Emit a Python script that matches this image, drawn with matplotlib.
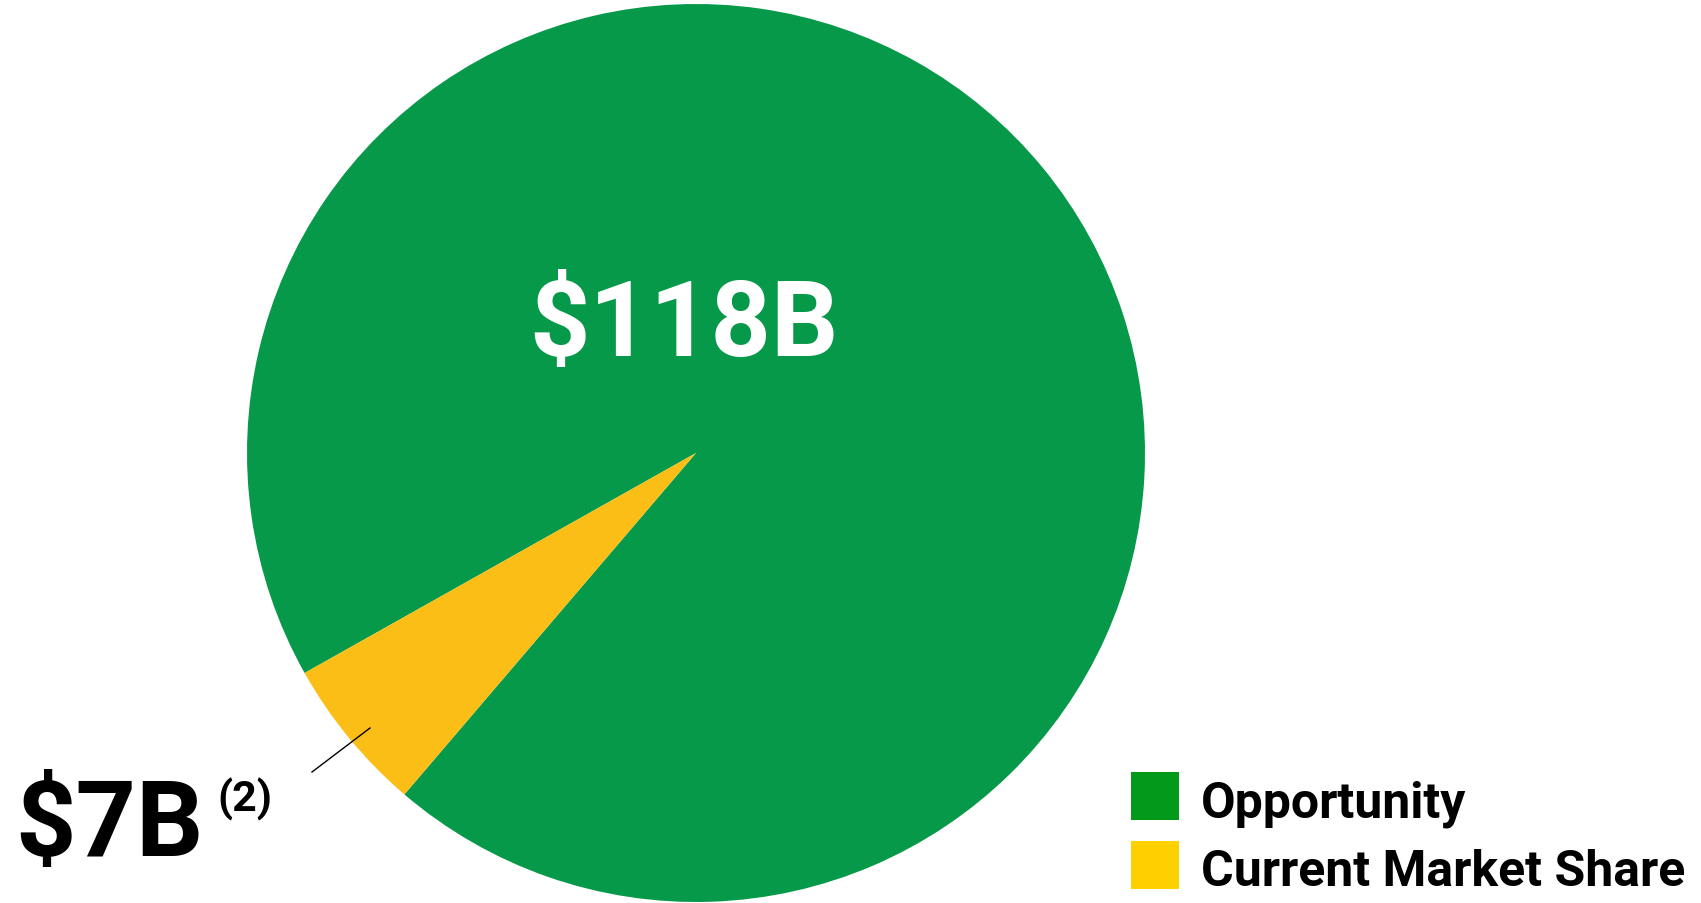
import matplotlib.pyplot as plt
from matplotlib.patches import Rectangle

labels = ["Opportunity", "Current Market Share"]
values = [118, 7]  # $ billions
note = "(2)"

pie_colors = ["#07994A", "#FBBE16"]
key_colors = ["#039A1B", "#FFD000"]

W, H = 1701, 904

plt.rcParams["font.family"] = ["Roboto", "DejaVu Sans"]
plt.rcParams["font.weight"] = "bold"

fig = plt.figure(figsize=(W / 100, H / 100), dpi=100)
ax = fig.add_axes([0, 0, 1, 1])

# pie in pixel units, yellow slice ends at ~229 deg
ax.pie(values, colors=pie_colors, startangle=229.5, counterclock=True,
       center=(696, H - 454), radius=449, frame=True,
       wedgeprops=dict(linewidth=0))
ax.set_xlim(0, W)
ax.set_ylim(0, H)
ax.set_aspect("equal")
ax.axis("off")

ax.text(684, H - 356, f"\\${values[0]}B", color="white", fontsize=76,
        fontweight="bold", ha="center", va="baseline")

# small slice callout
ax.plot([370, 312], [H - 729, H - 773], color="black", lw=1)
ax.text(15, H - 856, f"\\${values[1]}B", color="black", fontsize=76,
        fontweight="bold", ha="left", va="baseline")
ax.text(217, H - 812, note, color="black", fontsize=31,
        fontweight="bold", ha="left", va="baseline")

# key
for i, (lab, c) in enumerate(zip(labels, key_colors)):
    y0 = 773 + i * 69
    ax.add_patch(Rectangle((1131, H - y0 - 48), 48, 48, color=c, lw=0))
    ax.text(1201, H - (818 + i * 68), lab, color="black", fontsize=36,
            fontweight="bold", ha="left", va="baseline")

fig.savefig("out.png", dpi=100, facecolor="white")
